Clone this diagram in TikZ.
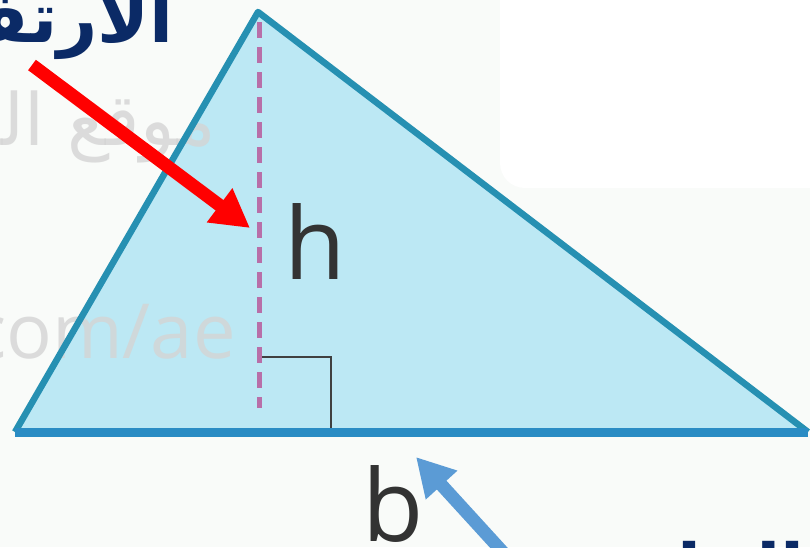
\documentclass[tikz,border=0pt]{standalone}
\usepackage{fontspec}
\usetikzlibrary{arrows.meta}
\TeXXeTstate=1
\newfontfamily\arabicfont[Script=Arabic]{DejaVu Sans}
\newfontfamily\labfont{Open Sans}
\definecolor{bgc}{HTML}{F9FBF9}
\definecolor{trifill}{HTML}{BCE8F4}
\definecolor{triedge}{HTML}{2690B2}
\definecolor{basec}{HTML}{2A8CC4}
\definecolor{dashc}{HTML}{B86FA8}
\definecolor{navy}{HTML}{0B2A66}
\definecolor{wm}{HTML}{D4D4D4}
\definecolor{bluearr}{HTML}{5B9BD5}
\tikzset{
  lbl/.style={font=\labfont\fontsize{100}{100}\selectfont, text=black!80, inner sep=0pt},
  title/.style={font=\arabicfont\bfseries\fontsize{70}{70}\selectfont, text=navy, inner sep=0pt},
  wmark/.style={text=wm, inner sep=0pt, opacity=0.8},
  pointer/.style={line width=13pt, -{Triangle[width=40pt,length=38pt]}}
}
\begin{document}
\begin{tikzpicture}[x=1pt,y=-1pt]
\useasboundingbox (0,0) rectangle (810,547);
\clip (0,0) rectangle (810,547);
\fill[bgc] (0,0) rectangle (810,547);
\fill[white, rounded corners=25pt] (500,-30) rectangle (840,188);
% triangle
\coordinate (A) at (258,12);
\coordinate (L) at (15,432);
\coordinate (R) at (808,432);
\fill[trifill] (A) -- (L) -- (R) -- cycle;
% watermarks
\node[wmark, anchor=base east, font=\labfont\fontsize{76}{76}\selectfont] (wm1) at (236,358) {com/ae};
\node[wmark, anchor=base east, font=\arabicfont\fontsize{72}{72}\selectfont] (wm2) at (216,145) {\beginR موقع الم\endR};
% edges
\draw[triedge, line width=6.5pt, line join=round] (L) -- (A) -- (R);
\draw[basec, line width=9pt] (L) -- (R);
% height
\coordinate (H1) at (259,22);
\coordinate (H2) at (259,408);
\draw[dashc, line width=5pt, dash pattern=on 16pt off 9pt] (H1) -- (H2);
% right angle mark
\coordinate (S1) at (262,357);
\coordinate (S2) at (331,357);
\coordinate (S3) at (331,428);
\draw[black!75, line width=2pt] (S1) -- (S2) -- (S3);
% labels
\node[lbl, anchor=base west] (h) at (284,279) {h};
\node[lbl, anchor=base west] (b) at (362,541) {b};
% titles
\node[title, anchor=base east] (t1) at (174,42) {\beginR الارتفاع\endR};
\node[title, anchor=base east] (t2) at (805,594) {\beginR القاعدة\endR};
% arrows
\coordinate (r0) at (32,65);
\coordinate (r1) at (250,228);
\draw[red, pointer] (r0) -- (r1);
\coordinate (b0) at (510,560);
\coordinate (b1) at (416,457);
\draw[bluearr, pointer] (b0) -- (b1);
\end{tikzpicture}
\end{document}
